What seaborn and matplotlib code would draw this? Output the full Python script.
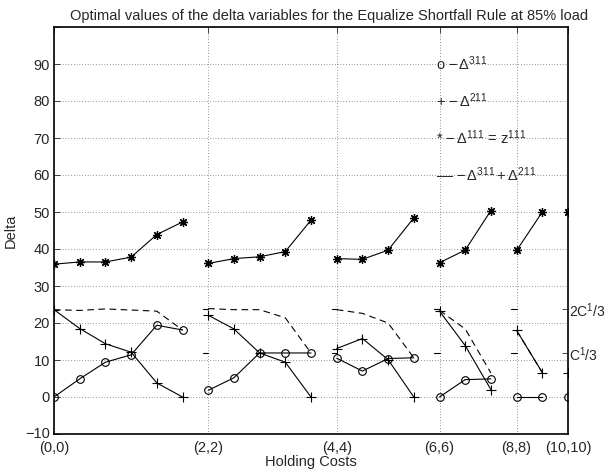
import numpy as np
import pandas as pd
import seaborn as sns
import matplotlib
matplotlib.use("Agg")
import matplotlib.pyplot as plt
import matplotlib.transforms as mtransforms

sns.set_style("white")
plt.rcParams['font.family'] = ['Liberation Sans', 'DejaVu Sans']
plt.rcParams['mathtext.fontset'] = 'custom'
plt.rcParams['mathtext.rm'] = 'Liberation Sans'
plt.rcParams['mathtext.it'] = 'Liberation Sans:italic'
plt.rcParams['mathtext.bf'] = 'Liberation Sans:bold'

FS = 10.5

# group start index on the x axis and tick labels
group_starts = [0, 6, 11, 15, 18, 20]
group_labels = ["(0,0)", "(2,2)", "(4,4)", "(6,6)", "(8,8)", "(10,10)"]

delta311 = [[0, 4.9, 9.4, 11.4, 19.4, 18.1],
            [1.8, 5.2, 11.9, 11.9, 11.9],
            [10.5, 7.0, 10.4, 10.6],
            [0, 4.7, 4.9],
            [0, 0],
            [0]]
delta211 = [[23.6, 18.5, 14.4, 12.1, 3.8, 0],
            [22.1, 18.4, 11.9, 9.4, 0],
            [13.1, 15.8, 10.1, 0],
            [23.2, 13.9, 2.0],
            [18.0, 6.6],
            [6.6]]
delta111 = [[35.9, 36.5, 36.5, 37.8, 43.9, 47.3],
            [36.1, 37.4, 37.9, 39.3, 47.8],
            [37.4, 37.2, 39.7, 48.4],
            [36.3, 39.7, 50.4],
            [39.6, 50.0],
            [50.0]]
delta_sum = [[23.6, 23.4, 23.8, 23.5, 23.2, 18.1],
             [23.9, 23.6, 23.6, 21.4, 11.9],
             [23.6, 22.6, 20.0, 10.6],
             [23.4, 18.4, 6.5],
             [18.0, 6.6],
             [6.6]]
C1 = 35.5
c_levels = [C1 / 3, 2 * C1 / 3]
c_labels = [r"C$^1$/3", r"2C$^1$/3"]
y_ticks = list(range(-10, 101, 10))
y_tick_labels = ["\u221210", "0", "10", "20", "30", "40", "50", "60", "70", "80", "90", ""]


def to_df(series):
    rows = []
    for g, (start, vals) in enumerate(zip(group_starts, series)):
        for i, v in enumerate(vals):
            rows.append({"x": start + i, "v": v, "group": g})
    return pd.DataFrame(rows)


fig = plt.figure(figsize=(6.06, 4.71), dpi=100)
ax = fig.add_axes([54 / 606, 1 - 434 / 471, (568 - 54) / 606, (434 - 27) / 471])

common = dict(x="x", y="v", units="group", estimator=None, sort=False,
              color="k", ax=ax, legend=False)

sns.lineplot(data=to_df(delta_sum), linestyle=(0, (6, 4)), lw=0.8, **common)
sns.lineplot(data=to_df(delta311), marker="o", markersize=5.5, markerfacecolor="none",
             markeredgecolor="k", markeredgewidth=0.8, lw=0.8, **common)
sns.lineplot(data=to_df(delta211), marker="+", markersize=6.5,
             markeredgecolor="k", markeredgewidth=0.8, lw=0.8, **common)
sns.lineplot(data=to_df(delta111), marker=(8, 2, 0), markersize=6.5,
             markeredgecolor="k", markeredgewidth=0.9, lw=0.8, **common)

# short reference marks at C/3 and 2C/3 at each group start
for s in group_starts[1:-1]:
    for lv in c_levels:
        ax.plot([s - 0.2, s], [lv, lv], color="k", lw=0.8)

ax.set_xlim(0, 20)
ax.set_ylim(-10, 100)
ax.set_xticks(group_starts)
ax.set_xticklabels(group_labels, fontsize=FS)
ax.set_yticks(y_ticks)
ax.set_yticklabels(y_tick_labels, fontsize=FS)
ax.grid(True, linestyle=(0, (1, 3)), color="k", lw=0.5, alpha=0.8)
ax.tick_params(direction="in", top=True, right=True, length=4, width=0.6)
ax.tick_params(axis="x", pad=5)
ax.tick_params(axis="y", pad=3)
for sp in ax.spines.values():
    sp.set_linewidth(1.2)
    sp.set_color("k")

# nudge the lowest y label up a bit, as in the reference
lab0 = ax.get_yticklabels()[0]
lab0.set_transform(lab0.get_transform() + mtransforms.ScaledTranslation(0, 2 / 100, fig.dpi_scale_trans))

ax.set_xlabel("Holding Costs", fontsize=FS, labelpad=0)
ax.set_ylabel("Delta", fontsize=FS, labelpad=5)
ax.set_title("Optimal values of the delta variables for the Equalize Shortfall Rule at 85% load",
             fontsize=FS, pad=5, x=0.535)

ax2 = ax.twinx()
ax2.set_ylim(ax.get_ylim())
ax2.set_yticks(c_levels)
ax2.set_yticklabels(c_labels, fontsize=10)
ax2.tick_params(direction="in", length=4, width=0.6, pad=1)
for sp in ax2.spines.values():
    sp.set_visible(False)

legend_text = [r"o $-\,\Delta^{311}$",
               r"+ $-\,\Delta^{211}$",
               r"* $-\,\Delta^{111}$ = z$^{111}$",
               "\u2013\u2013" + r" $-\,\Delta^{311} + \Delta^{211}$"]
legend_y = [90, 80, 70, 60]
for t, yv in zip(legend_text, legend_y):
    ax.text(14.85, yv, t, fontsize=FS, ha="left", va="center")

fig.savefig("out.png", dpi=100)
